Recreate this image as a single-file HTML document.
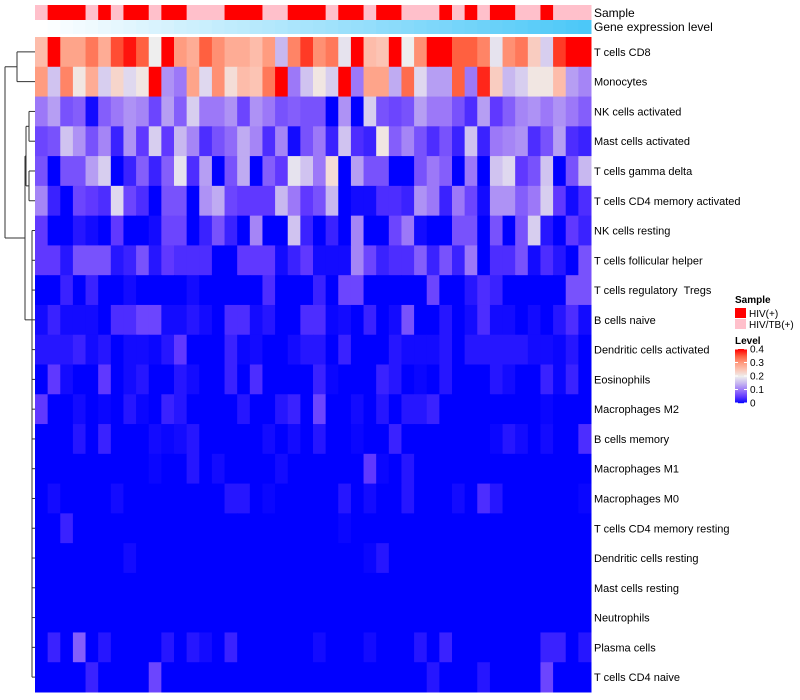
<!DOCTYPE html>
<html><head><meta charset="utf-8"><style>
body{margin:0;background:#fff}
svg{display:block;font-family:"Liberation Sans",sans-serif}
</style></head><body>
<svg id="chart" width="800" height="700">
<g id="dendro" stroke="#333" stroke-width="1" fill="none"></g>
<g id="cells"></g>
<g id="annot"></g>
<g id="labels" font-size="11" fill="#000"></g>
<text x="594" y="17" font-size="12">Sample</text>
<text x="594" y="31" font-size="12">Gene expression level</text>
<g font-size="10">
 <text x="735" y="303" font-weight="bold">Sample</text>
 <rect x="735" y="308" width="11" height="10" fill="#ff0000"/>
 <text x="749" y="317">HIV(+)</text>
 <rect x="735" y="319" width="11" height="10" fill="#ffc0cb"/>
 <text x="749" y="328">HIV/TB(+)</text>
 <text x="735" y="344" font-weight="bold">Level</text>
 <g id="cbar"></g>
</g>
</svg>
<script>
const rowNames=["T cells CD8","Monocytes","NK cells activated","Mast cells activated","T cells gamma delta","T cells CD4 memory activated","NK cells resting","T cells follicular helper","T cells regulatory \u00a0Tregs","B cells naive","Dendritic cells activated","Eosinophils","Macrophages M2","B cells memory","Macrophages M1","Macrophages M0","T cells CD4 memory resting","Dendritic cells resting","Mast cells resting","Neutrophils","Plasma cells","T cells CD4 naive"];
const sampleGroups="PRRRPRPRRPRRPPPRRRPPRRRPRRPRRPPPRPRPRRPPRPPP".split("");
const geneLevel=[0,0.02,0.05,0.07,0.09,0.12,0.14,0.16,0.19,0.21,0.23,0.26,0.28,0.3,0.33,0.35,0.37,0.4,0.42,0.44,0.47,0.49,0.51,0.53,0.56,0.58,0.6,0.63,0.65,0.67,0.7,0.72,0.74,0.77,0.79,0.81,0.84,0.86,0.88,0.91,0.93,0.95,0.98,1];
const rCD8=[.26,.4,.29,.29,.33,.28,.36,.39,.35,.2,.4,.3,.28,.35,.31,.28,.28,.26,.3,.15,.32,.37,.31,.33,.19,.4,.26,.25,.4,.2,.31,.4,.4,.35,.35,.32,.19,.31,.33,.24,.17,.37,.4,.4];
const rMono=[.3,.16,.32,.21,.28,.17,.23,.18,.21,.4,.12,.1,.29,.18,.31,.22,.26,.25,.33,.4,.1,.16,.21,.17,.4,.1,.29,.29,.14,.34,.18,.13,.13,.35,.1,.38,.24,.15,.17,.21,.21,.26,.13,.11];
const rNKa=[.1,.13,.07,.08,.01,.08,.1,.12,.11,.06,.13,.08,.17,.1,.1,.12,.06,.12,.1,.07,.08,.07,.07,0,.12,0,.17,.07,.06,.07,.13,.1,.1,.07,.04,.13,.05,.08,.11,.12,.1,.12,.1,.08];
const rMastA=[.06,.07,.16,.12,.07,.11,.03,.12,.05,.17,.05,.15,.11,.04,.07,.09,.14,.11,.04,.11,.01,.07,.1,.03,.16,.04,.03,.21,.08,.11,.07,.04,.07,.03,.16,.03,.1,.11,.12,.04,.07,.13,.04,.03];
const rGD=[.07,0,.07,.07,.13,.17,0,.03,.08,.03,.08,.19,.04,.13,0,.07,.14,0,.08,.05,.19,.16,.1,.22,0,.13,.07,.07,0,0,.07,.1,.08,0,.1,0,.16,.18,.05,.07,.16,0,.07,.15];
const rCD4MA=[.11,.03,0,.06,.05,.04,.18,.06,.04,0,.07,.07,0,.12,.14,.06,.05,.05,.05,.15,.1,.05,.07,.15,0,.01,.01,.04,.04,.03,.12,.1,.03,.1,.06,.01,.12,.12,.08,.1,.17,.05,.01,.04];
const rNKr=[.05,0,0,.02,.01,0,.05,0,0,.01,.06,.06,0,.03,.07,.03,0,.11,0,0,.16,.03,0,.03,0,.11,0,0,.06,.1,.01,0,0,.07,.07,0,.07,0,.07,.17,.02,0,.05,.03];
const rTFH=[.05,.05,.02,.07,.07,.07,.02,.03,.07,.02,.05,.04,.04,.04,0,0,.05,.05,.05,.01,.03,.05,.01,.01,.01,.11,.06,.03,.04,.04,.08,.03,.07,.03,.1,0,.04,.04,.07,.01,.04,.02,0,.07];
const rTreg=[0,0,.03,0,.03,0,0,.01,0,0,0,0,.01,0,0,0,0,0,.04,0,0,0,.03,0,.06,.06,0,0,0,0,0,.06,0,0,.02,.04,.03,0,0,0,0,0,.07,.07];
const rBN=[.01,.03,.01,.01,.01,0,.04,.04,.06,.06,.01,.01,.02,.01,0,.04,.04,.01,.02,0,0,.04,.04,.005,.01,0,.03,0,.01,.07,0,0,.02,0,.01,.04,.01,.01,0,.01,0,.02,.04,.01];
const rDCa=[.02,.02,.02,.03,.01,.02,0,.01,.01,.005,.02,.05,0,0,0,.03,.005,.01,0,0,.01,.02,.02,0,.03,0,0,0,.02,.01,.01,.01,.02,0,.02,.02,.02,.02,.02,.01,.01,.005,.02,0];
const rEos=[0,.05,.01,0,0,.05,0,.01,.02,0,0,.02,.01,0,0,.03,0,.04,0,0,0,0,.03,.005,0,0,0,.03,.02,0,.005,0,.02,0,0,0,.02,.01,0,0,.03,.005,.03,0];
const rM2=[.05,0,0,.01,0,.005,0,.02,.005,0,.03,.02,0,0,0,0,.02,0,0,.02,.03,0,.06,0,0,.01,0,.02,0,.02,.02,.03,0,0,0,0,0,0,0,0,.005,0,0,0];
const rBM=[0,0,0,.02,0,.03,0,0,0,.01,.005,.01,.02,0,0,0,0,0,.01,0,.01,0,.02,0,0,.005,0,0,.03,0,0,0,0,0,0,0,.005,.02,.01,0,.01,0,0,.04];
const rM1=[0,0,0,0,0,0,0,0,0,.005,0,0,.02,0,.01,0,0,0,0,.01,0,0,0,0,0,0,.05,.005,0,.02,0,0,0,0,0,0,0,0,0,0,0,0,0,0];
const rM0=[0,.01,0,0,0,0,.01,0,0,0,0,0,0,0,0,.02,.02,0,.005,0,0,0,0,0,.02,0,.01,0,0,.02,0,0,0,.01,0,.04,.02,0,0,0,0,0,0,.005];
const rCD4MR=[0,0,.03,0,0,0,0,0,0,0,0,0,0,0,0,0,0,0,0,0,0,0,0,0,.005,0,0,0,0,0,0,0,0,0,0,0,0,0,0,0,0,0,0,0];
const rDCr=[0,0,0,0,0,0,0,.01,0,0,0,0,0,0,0,0,0,0,0,0,0,0,0,0,0,0,.005,.02,0,0,0,0,0,0,0,0,0,0,0,0,0,0,0,0];
const rMastR=[0,0,0,0,0,0,0,0,0,0,0,0,0,0,0,0,0,0,0,0,0,0,0,0,0,0,0,0,0,0,0,0,0,0,0,0,0,0,0,0,0,0,0,0];
const rNeu=[0,0,0,0,0,0,0,0,0,0,0,0,0,0,0,0,0,0,0,0,0,0,0,0,0,0,0,0,0,0,0,0,0,0,0,0,0,0,0,0,0,0,0,0];
const rPlasma=[0,.03,0,.08,0,.02,0,0,0,0,.02,0,.02,.01,0,.03,0,0,0,0,0,0,.01,0,0,0,.01,0,0,0,.02,0,.03,0,0,0,0,0,0,0,.03,.03,0,.02];
const rCD4N=[0,0,0,0,.03,0,0,0,0,.06,0,0,0,0,0,0,0,0,0,0,0,0,0,0,0,0,0,0,0,0,0,.02,0,0,0,.02,0,0,0,0,.06,0,0,0];
const matrix=[rCD8,rMono,rNKa,rMastA,rGD,rCD4MA,rNKr,rTFH,rTreg,rBN,rDCa,rEos,rM2,rBM,rM1,rM0,rCD4MR,rDCr,rMastR,rNeu,rPlasma,rCD4N];
const levelTicks=[0,0.1,0.2,0.3,0.4];

const NS="http://www.w3.org/2000/svg";
const X0=35,X1=591,Y0=37,Y1=692;
const nC=sampleGroups.length,nR=rowNames.length;
const cw=(X1-X0)/nC,rh=(Y1-Y0)/nR;
const xOf=i=>X0+i*cw, yOf=r=>Y0+r*rh;
const stops=[[0,[0,0,255]],[0.05,[96,56,255]],[0.1,[156,120,248]],[0.15,[200,184,240]],[0.2,[238,238,238]],[0.25,[252,196,180]],[0.3,[255,156,128]],[0.35,[255,96,64]],[0.4,[255,0,0]]];
function col(v){v=Math.max(0,Math.min(0.4,v));for(let i=1;i<stops.length;i++){if(v<=stops[i][0]){const a=stops[i-1],b=stops[i],t=(v-a[0])/(b[0]-a[0]);return "rgb("+a[1].map((c,k)=>Math.round(c+(b[1][k]-c)*t)).join(",")+")";}}return "rgb(255,0,0)";}
function mk(tag,attrs,parent){const e=document.createElementNS(NS,tag);for(const k in attrs)e.setAttribute(k,attrs[k]);parent.appendChild(e);return e;}
const cells=document.getElementById("cells");
matrix.forEach((row,r)=>row.forEach((v,c)=>{
 const e=mk("rect",{x:xOf(c).toFixed(2),y:yOf(r).toFixed(2),width:(cw+0.5).toFixed(2),height:(rh+0.5).toFixed(2),fill:col(v)},cells);
 
 
}));
const annot=document.getElementById("annot");
sampleGroups.forEach((g,c)=>{
 const e=mk("rect",{x:xOf(c).toFixed(2),y:5,width:(cw+0.5).toFixed(2),height:15,fill:g==="R"?"#ff0000":"#ffc0cb"},annot);
 
 
});
geneLevel.forEach((v,c)=>{
 const r=Math.round(255+(76-255)*v),g=Math.round(255+(200-255)*v),b=Math.round(255+(248-255)*v);
 const e=mk("rect",{x:xOf(c).toFixed(2),y:20,width:(cw+0.5).toFixed(2),height:14,fill:`rgb(${r},${g},${b})`},annot);
 
 
});
const labels=document.getElementById("labels");
rowNames.forEach((n,r)=>{
 const e=mk("text",{x:594,y:(yOf(r)+rh/2+4).toFixed(1)},labels);
 e.textContent=n;
 
 
});
const d=document.getElementById("dendro");
const yc=r=>yOf(r)+rh/2;
function ln(x1,y1,x2,y2){mk("line",{x1,y1,x2,y2},d);}
ln(17,yc(0),35,yc(0));ln(17,yc(1),35,yc(1));ln(17,yc(0),17,yc(1));
const topMid=(yc(0)+yc(1))/2;
ln(5,topMid,17,topMid);
ln(29,yc(2),35,yc(2));ln(29,yc(3),35,yc(3));ln(29,yc(2),29,yc(3));
ln(29,yc(4),35,yc(4));ln(29,yc(5),35,yc(5));ln(29,yc(4),29,yc(5));
ln(26,(yc(2)+yc(3))/2,29,(yc(2)+yc(3))/2);ln(26,(yc(4)+yc(5))/2,29,(yc(4)+yc(5))/2);
ln(26,(yc(2)+yc(3))/2,26,(yc(4)+yc(5))/2);
for(let r=6;r<nR;r++)ln(32,yc(r),35,yc(r));
ln(32,yc(6),32,yc(nR-1));
const m1=((yc(2)+yc(5))/2),m2=yc(9);
ln(25,m1,26,m1);ln(25,m2,32,m2);ln(25,m1,25,m2);
const bm=(m1+m2)/2;
ln(5,bm,25,bm);ln(5,topMid,5,bm);
const cb=document.getElementById("cbar");
const cbTop=349,cbBot=403;
for(let i=0;i<54;i++){const v=0.4*(1-i/54);mk("rect",{x:735,y:cbTop+i,width:12,height:1.2,fill:col(v)},cb);}
levelTicks.forEach(t=>{
 const y=cbBot-(t/0.4)*(cbBot-cbTop);
 mk("line",{x1:735,y1:y,x2:738,y2:y,stroke:"#fff","stroke-width":1},cb);
 mk("line",{x1:744,y1:y,x2:747,y2:y,stroke:"#fff","stroke-width":1},cb);
 const e=mk("text",{x:750,y:(y+3.5).toFixed(1),"font-size":10},cb);
 e.textContent=String(t);
 
 
});
</script>
</body></html>
